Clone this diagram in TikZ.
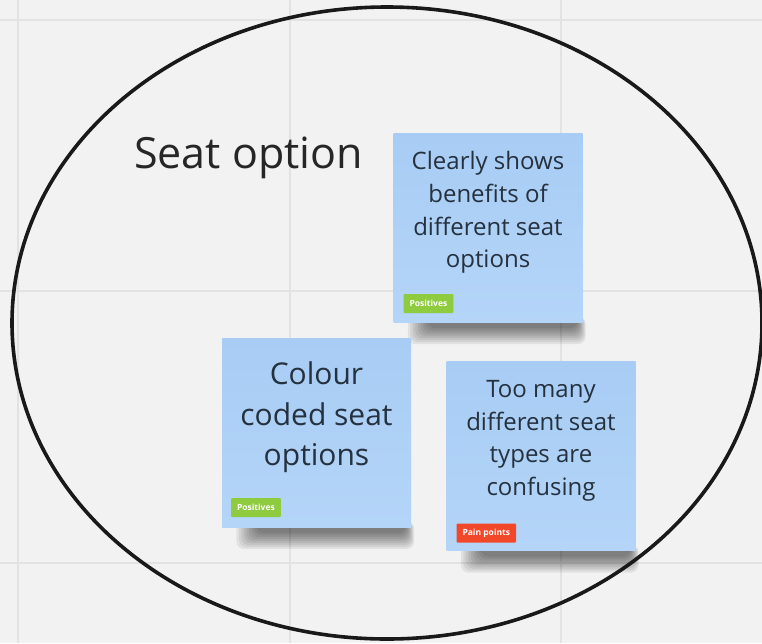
\documentclass[tikz,border=0pt]{standalone}
\usepackage{fontspec}
\setmainfont{Open Sans}
\usepackage{xcolor}
\usetikzlibrary{positioning,backgrounds}

\definecolor{board}{HTML}{F2F2F2}
\definecolor{gridline}{HTML}{E2E2E2}
\definecolor{stickytop}{HTML}{A8CCF4}
\definecolor{stickybot}{HTML}{B4D5F8}
\definecolor{inktext}{HTML}{25313E}
\definecolor{tagpos}{HTML}{8FCB3E}
\definecolor{tagpain}{HTML}{F2482A}

\begin{document}
\begin{tikzpicture}[
        x=1pt, y=-1pt,
        note/.style={rectangle, inner sep=0pt, minimum width=189pt, minimum height=189pt, top color=stickytop, bottom color=stickybot},
        notetext/.style={align=center, inner sep=0pt, text=inktext, font=\fontsize{24}{32.6}\selectfont},
        tag/.style={rectangle, rounded corners=1pt, inner xsep=6pt, inner ysep=0pt, minimum height=19pt, text=white, font=\fontsize{8.5}{9}\selectfont\bfseries},
    ]
        \useasboundingbox (0,0) rectangle (762,643);

        % Sticky notes
        \node (benefits) [note] at (488,227.5) {};
        \node (colourcoded) [note] at (316.5,432.5) {};
        \node (toomany) [note] at (541,456) {};

        \node (benefits_txt) [notetext, yshift=15pt] at (benefits.center) {Clearly shows\\benefits of\\different seat\\options};
        \node (colourcoded_txt) [notetext, font=\fontsize{30}{40.5}\selectfont, yshift=15pt] at (colourcoded.center) {Colour\\coded seat\\options};
        \node (toomany_txt) [notetext, yshift=15pt] at (toomany.center) {Too many\\different seat\\types are\\confusing};

        % Tags
        \node (benefits_tag) [tag, fill=tagpos, above right=9pt and 10pt of benefits.south west] {Positives};
        \node (colourcoded_tag) [tag, fill=tagpos, above right=10pt and 9pt of colourcoded.south west] {Positives};
        \node (toomany_tag) [tag, fill=tagpain, above right=8pt and 10pt of toomany.south west] {Pain points};

        % Board, grid and shadows behind the notes
        \begin{scope}[on background layer]
            \fill[board] (0,0) rectangle (762,643);
            \foreach \gx in {18,290,561}
                \draw[gridline, line width=1.3pt] (\gx,0) -- (\gx,643);
            \foreach \gy in {20,291,563}
                \draw[gridline, line width=1.3pt] (0,\gy) -- (762,\gy);
            \foreach \n in {benefits,colourcoded,toomany}
                \foreach \k in {1,...,9}
                    \fill[black, opacity=0.065, rounded corners=8pt]
                        ([xshift=12pt+2.5pt*\k, yshift=6pt]\n.south west) rectangle
                        ([xshift=4pt-1pt*\k, yshift=-24pt+2pt*\k]\n.south east);
        \end{scope}

        % Frame and title
        \coordinate (frame) at (387,323);
        \draw[line width=3.6pt, black!90] (frame) ellipse [x radius=375, y radius=316];
        \node (title) [text=black!85, font=\fontsize{43}{50}\selectfont] at (248.5,158) {Seat option};

    \end{tikzpicture}
\end{document}
